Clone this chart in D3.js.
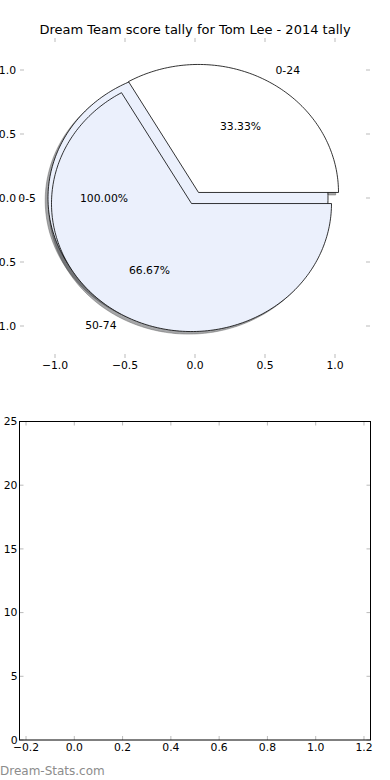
<!DOCTYPE html>
<html>
<head>
<meta charset="utf-8">
<script src="https://cdn.jsdelivr.net/npm/d3@7"></script>
<style>
  body { margin: 0; background: #fff; }
  svg { display: block; font-family: "DejaVu Sans", sans-serif; }
</style>
</head>
<body>
<div id="chart"></div>
<script>
// first pie: a single category drawn as a full circle
const fullLabels = ["0-5"]
const fullValues = [1]
// second pie drawn on top of it
const pieLabels = ["0-24", "50-74"]
const pieValues = [1, 2]
const pieColors = ["#ffffff", "#ebf0fc"]
const fullColor = "#ebf0fc"

const pieTicks = [-1.0, -0.5, 0.0, 0.5, 1.0]
const barXTicks = [-0.2, 0.0, 0.2, 0.4, 0.6, 0.8, 1.0, 1.2]
const barYTicks = [0, 5, 10, 15, 20, 25]

const title = "Dream Team score tally for Tom Lee - 2014 tally"
const explode = 0.05
const shadowOff = -0.02

const svgWidth = 390
const svgHeight = 780
const svg = d3.select("#chart").append("svg")
    .attr("width", svgWidth)
    .attr("height", svgHeight)

const fmt = d => d3.format(".1f")(d).replace("-", "\u2212")
const fs = 10.8

// ---------- pie panel ----------
const x = d3.scaleLinear().domain([-1.25, 1.25]).range([20, 370])
const y = d3.scaleLinear().domain([-1.25, 1.25]).range([358, 38])

svg.append("text")
    .attr("x", 195).attr("y", 34)
    .attr("text-anchor", "middle")
    .attr("font-size", 13)
    .text(title)

const tickCol = "#bbbbbb"
const pg = svg.append("g")
pieTicks.forEach(t => {
    // top & bottom ticks
    pg.append("line").attr("x1", x(t)).attr("x2", x(t)).attr("y1", y(-1.25)).attr("y2", y(-1.25) - 4).attr("stroke", tickCol)
    pg.append("line").attr("x1", x(t)).attr("x2", x(t)).attr("y1", y(1.25)).attr("y2", y(1.25) + 4).attr("stroke", tickCol)
    // left & right ticks
    pg.append("line").attr("y1", y(t)).attr("y2", y(t)).attr("x1", x(-1.25)).attr("x2", x(-1.25) + 4).attr("stroke", tickCol)
    pg.append("line").attr("y1", y(t)).attr("y2", y(t)).attr("x1", x(1.25)).attr("x2", x(1.25) - 4).attr("stroke", tickCol)
    pg.append("text").attr("x", x(t)).attr("y", y(-1.25) + 11)
        .attr("text-anchor", "middle").attr("font-size", fs).text(fmt(t))
    pg.append("text").attr("x", x(-1.25) - 4).attr("y", y(t))
        .attr("dy", "0.35em")
        .attr("text-anchor", "end").attr("font-size", fs).text(fmt(t))
})

// matplotlib style: start at 3 o'clock, counter-clockwise
function wedges(values, labels, colors) {
    const total = d3.sum(values)
    let a = 0
    return values.map((v, i) => {
        const a0 = a
        const a1 = a + v / total * 2 * Math.PI
        a = a1
        const mid = (a0 + a1) / 2
        return {
            a0, a1, mid, label: labels[i], color: colors[i],
            pct: (v / total * 100).toFixed(2) + "%",
            cx: explode * Math.cos(mid),
            cy: explode * Math.sin(mid),
            full: (a1 - a0) >= 2 * Math.PI - 1e-9
        }
    })
}

const line = d3.line().x(d => x(d[0])).y(d => y(d[1]))

function wedgePath(w, dx, dy) {
    const pts = []
    const n = Math.max(8, Math.ceil((w.a1 - w.a0) / 0.02))
    if (!w.full) pts.push([w.cx + dx, w.cy + dy])
    for (let k = 0; k <= n; k++) {
        const t = w.a0 + (w.a1 - w.a0) * k / n
        pts.push([w.cx + dx + Math.cos(t), w.cy + dy + Math.sin(t)])
    }
    return line(pts) + "Z"
}

const all = wedges(fullValues, fullLabels, [fullColor])
    .concat(wedges(pieValues, pieLabels, pieColors))

// shadows below every wedge
pg.selectAll("path.shadow")
    .data(all)
    .enter()
    .append("path")
    .attr("class", "shadow")
    .attr("d", d => wedgePath(d, shadowOff, shadowOff))
    .attr("fill", d => d3.rgb(d.color).darker(4))
    .attr("fill-opacity", 0.45)
    .attr("stroke", "#555")
    .attr("stroke-opacity", 0.4)
    .attr("stroke-width", 1)

pg.selectAll("path.wedge")
    .data(all)
    .enter()
    .append("path")
    .attr("class", "wedge")
    .attr("d", d => wedgePath(d, 0, 0))
    .attr("fill", d => d.color)
    .attr("stroke", "#000")
    .attr("stroke-width", 0.8)

all.forEach(w => {
    const lx = w.cx + 1.1 * Math.cos(w.mid)
    const ly = w.cy + 1.1 * Math.sin(w.mid)
    pg.append("text")
        .attr("x", x(lx) + (lx < 0 ? 2 : 0)).attr("y", y(ly))
        .attr("dy", "0.35em")
        .attr("text-anchor", lx < 0 ? "end" : "start")
        .attr("font-size", fs)
        .text(w.label)
    const px = w.cx + 0.6 * Math.cos(w.mid)
    const py = w.cy + 0.6 * Math.sin(w.mid)
    pg.append("text")
        .attr("x", x(px)).attr("y", y(py))
        .attr("dy", "0.35em")
        .attr("text-anchor", "middle")
        .attr("font-size", fs)
        .text(w.pct)
})

// ---------- empty bar panel ----------
const bx = d3.scaleLinear().domain([-0.227, 1.227]).range([19.5, 370.5])
const by = d3.scaleLinear().domain([0, 25]).range([740, 421.5])
const bg = svg.append("g")

barXTicks.forEach(t => {
    bg.append("line").attr("x1", bx(t)).attr("x2", bx(t)).attr("y1", by(0)).attr("y2", by(0) - 4).attr("stroke", tickCol)
    bg.append("line").attr("x1", bx(t)).attr("x2", bx(t)).attr("y1", by(25)).attr("y2", by(25) + 4).attr("stroke", tickCol)
    bg.append("text").attr("x", bx(t)).attr("y", by(0) + 11)
        .attr("text-anchor", "middle").attr("font-size", fs).text(fmt(t))
})
barYTicks.forEach(t => {
    bg.append("line").attr("y1", by(t)).attr("y2", by(t)).attr("x1", bx(-0.227)).attr("x2", bx(-0.227) + 4).attr("stroke", tickCol)
    bg.append("line").attr("y1", by(t)).attr("y2", by(t)).attr("x1", bx(1.227)).attr("x2", bx(1.227) - 4).attr("stroke", tickCol)
    bg.append("text").attr("x", bx(-0.227) - 2).attr("y", by(t))
        .attr("dy", "0.35em")
        .attr("text-anchor", "end").attr("font-size", fs).text(t)
})

bg.append("rect")
    .attr("x", bx(-0.227)).attr("y", by(25))
    .attr("width", bx(1.227) - bx(-0.227))
    .attr("height", by(0) - by(25))
    .attr("fill", "none")
    .attr("stroke", "#000")
    .attr("stroke-width", 1)

svg.append("text")
    .attr("x", 0).attr("y", 775)
    .attr("font-size", 12)
    .attr("fill", "#8c8c8c")
    .text("Dream-Stats.com")
</script>
</body>
</html>
